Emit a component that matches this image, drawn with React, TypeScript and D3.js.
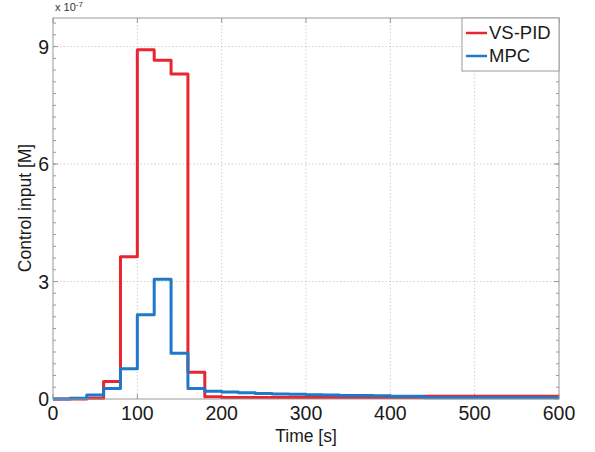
import React from "react";
import * as d3 from "d3";

const timeEdges = [0, 20, 40, 60, 80, 100, 120, 140, 160, 180, 200, 220, 240, 260, 280, 300, 320, 340, 360, 380, 400, 420, 440, 460, 480, 500, 520, 540, 560, 580, 600];
const vsPid = [0, 0, 0.02, 0.45, 3.63, 8.92, 8.65, 8.3, 0.68, 0.06, 0.04, 0.04, 0.04, 0.04, 0.04, 0.04, 0.04, 0.04, 0.04, 0.04, 0.04, 0.04, 0.07, 0.07, 0.07, 0.07, 0.07, 0.07, 0.07, 0.07];
const mpc = [0, 0.02, 0.1, 0.27, 0.77, 2.15, 3.06, 1.17, 0.27, 0.2, 0.18, 0.16, 0.14, 0.13, 0.12, 0.11, 0.1, 0.09, 0.09, 0.08, 0.07, 0.07, 0.03, 0.03, 0.03, 0.03, 0.03, 0.03, 0.03, 0.03];
const xTicks = [0, 100, 200, 300, 400, 500, 600];
const yTicks = [0, 3, 6, 9];
const seriesNames = ["VS-PID", "MPC"];
const seriesColors = ["#e8262f", "#1f78c8"];

const W = 595, H = 452;
const L = 53, R = 559, T = 18, B = 399;

export default function App() {
  const x = d3.scaleLinear().domain([0, 600]).range([L, R]);
  const y = d3.scaleLinear().domain([0, 9.73]).range([B, T]);
  const toPts = (vals: number[]) => {
    const pts = vals.map((v, i) => [timeEdges[i], v] as [number, number]);
    pts.push([timeEdges[timeEdges.length - 1], vals[vals.length - 1]]);
    return pts;
  };
  const line = d3.line<[number, number]>().x(d => x(d[0])).y(d => y(d[1])).curve(d3.curveStepAfter);
  const minor = d3.range(0.3, 9.73, 0.3);
  const font = "Liberation Sans, Arial, Helvetica, sans-serif";
  return (
    <svg width={W} height={H} style={{ position: "absolute", left: 0, top: 0, background: "#fff" }} fontFamily={font}>
      <rect x={0} y={0} width={W} height={H} fill="#fff" />
      {xTicks.slice(1, -1).map(t => (
        <line key={"gx" + t} x1={x(t)} x2={x(t)} y1={T} y2={B} stroke="#cfcfcf" strokeWidth={1} strokeDasharray="1.5,2" />
      ))}
      {yTicks.slice(1).map(t => (
        <line key={"gy" + t} x1={L} x2={R} y1={y(t)} y2={y(t)} stroke="#cfcfcf" strokeWidth={1} strokeDasharray="1.5,2" />
      ))}
      {minor.map((t, i) => (
        <g key={"mt" + i}>
          <line x1={L} x2={L + 3} y1={y(t)} y2={y(t)} stroke="#999" />
          <line x1={R} x2={R - 3} y1={y(t)} y2={y(t)} stroke="#999" />
        </g>
      ))}
      {xTicks.map(t => (
        <g key={"xt" + t}>
          <line x1={x(t)} x2={x(t)} y1={B} y2={B - 5} stroke="#999" />
          <line x1={x(t)} x2={x(t)} y1={T} y2={T + 5} stroke="#999" />
        </g>
      ))}
      {yTicks.map(t => (
        <g key={"yt" + t}>
          <line x1={L} x2={L + 5} y1={y(t)} y2={y(t)} stroke="#999" />
          <line x1={R} x2={R - 5} y1={y(t)} y2={y(t)} stroke="#999" />
        </g>
      ))}
      {[vsPid, mpc].map((vals, i) => (
        <path key={"s" + i} d={line(toPts(vals)) || ""} fill="none" stroke={seriesColors[i]} strokeWidth={3} strokeLinejoin="round" />
      ))}
      <rect x={L} y={T} width={R - L} height={B - T} fill="none" stroke="#9a9a9a" strokeWidth={1} />
      {xTicks.map(t => (
        <text key={"xl" + t} x={x(t)} y={B + 21} textAnchor="middle" fontSize={19.5} fill="#1a1a1a">{t}</text>
      ))}
      {yTicks.map(t => (
        <text key={"yl" + t} x={L - 4} y={y(t) + 7} textAnchor="end" fontSize={19.5} fill="#1a1a1a">{t}</text>
      ))}
      <text x={L + 2} y={11} fontSize={11} fill="#333">x 10<tspan dy={-4} fontSize={8}>-7</tspan></text>
      <text x={(L + R) / 2} y={442} textAnchor="middle" fontSize={17.5} fill="#1a1a1a">Time [s]</text>
      <text transform={`translate(31,208) rotate(-90)`} textAnchor="middle" fontSize={17.5} fill="#1a1a1a">Control input [M]</text>
      <rect x={462} y={T} width={R - 462} height={53} fill="#fff" stroke="#9a9a9a" />
      {seriesNames.map((n, i) => (
        <g key={"lg" + i}>
          <line x1={466} x2={487} y1={33 + i * 23} y2={33 + i * 23} stroke={seriesColors[i]} strokeWidth={2.5} />
          <text x={489} y={39 + i * 23} fontSize={18.5} fill="#1a1a1a">{n}</text>
        </g>
      ))}
    </svg>
  );
}
